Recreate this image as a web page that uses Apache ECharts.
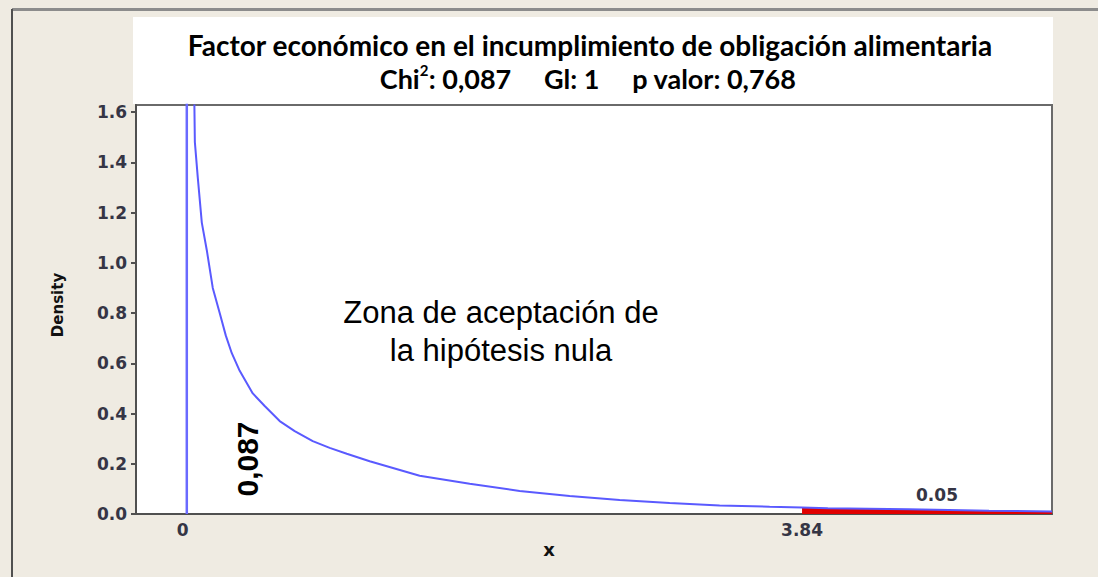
<!DOCTYPE html>
<html>
<head>
<meta charset="utf-8">
<script src="https://cdn.jsdelivr.net/npm/echarts@6/dist/echarts.min.js"></script>
<style>
html,body{margin:0;padding:0;background:#EFEBE2;}
#c{width:1098px;height:577px;}
</style>
</head>
<body>
<div id="c"></div>
<script>
// ---- data ----
var titleLine1 = 'Factor económico en el incumplimiento de obligación alimentaria';
var chiLabel = 'Chi';
var chiSup = '2';
var statsText = ': 0,087     Gl: 1     p valor: 0,768';
var yTickValues = [0, 0.2, 0.4, 0.6, 0.8, 1.0, 1.2, 1.4, 1.6];
var xTickValues = [0, 3.84];
var xTickLabels = ['0', '3.84'];
// chi-square (df = 1) density curve
var curveX = [0.072, 0.075, 0.093, 0.118, 0.149, 0.186, 0.229, 0.267, 0.304, 0.353, 0.434, 0.508, 0.601, 0.694, 0.806, 0.911, 1.017, 1.159, 1.469, 1.779, 2.089, 2.399, 2.709, 3.019, 3.329, 3.639, 3.84, 4.00, 4.50, 5.00, 5.39];
var curveY = [1.63, 1.48, 1.34, 1.16, 1.05, 0.90, 0.80, 0.71, 0.64, 0.57, 0.48, 0.43, 0.37, 0.33, 0.29, 0.263, 0.24, 0.21, 0.152, 0.120, 0.092, 0.072, 0.056, 0.044, 0.034, 0.029, 0.026, 0.023, 0.019, 0.013, 0.010];
// rejection tail (alpha = 0.05)
var tailX = [3.84, 4.00, 4.50, 5.00, 5.39];
var tailY = [0.026, 0.023, 0.019, 0.013, 0.010];
// vertical line near x = 0
var zeroLineX = [0.025, 0.025];
var zeroLineY = [0, 1.7];
var statValue = '0,087';
var alphaLabel = '0.05';
var zoneText = 'Zona de aceptación de\nla hipótesis nula';
var xName = 'x';
var yName = 'Density';

function pairs(xs, ys) { return xs.map(function (x, i) { return [x, ys[i]]; }); }

var chart = echarts.init(document.getElementById('c'), null, { renderer: 'svg' });
var tickFont = { color: '#353545', fontFamily: 'DejaVu Sans', fontWeight: 'bold', fontSize: 17 };

chart.setOption({
  backgroundColor: '#EFEBE2',
  animation: false,
  grid: {
    left: 136, top: 105, right: 46, bottom: 63,
    show: true, backgroundColor: '#ffffff', borderColor: '#6a6a6a', borderWidth: 2
  },
  xAxis: {
    type: 'value', min: -0.29, max: 5.39,
    splitLine: { show: false },
    axisLine: { show: true, onZero: false, lineStyle: { color: '#505050', width: 2 } },
    axisTick: { show: false },
    axisLabel: Object.assign({
      customValues: xTickValues,
      margin: 7,
      formatter: function (v) {
        var i = xTickValues.indexOf(v);
        return i >= 0 ? xTickLabels[i] : '';
      }
    }, tickFont)
  },
  yAxis: {
    type: 'value', min: 0, max: 1.628,
    splitLine: { show: false },
    axisLine: { show: true, onZero: false, lineStyle: { color: '#505050', width: 2 } },
    axisTick: { show: true, customValues: yTickValues, length: 5, lineStyle: { color: '#505050', width: 2 } },
    axisLabel: Object.assign({
      customValues: yTickValues,
      margin: 9,
      formatter: function (v) { return v.toFixed(1); }
    }, tickFont)
  },
  series: [
    {
      type: 'line', data: pairs(tailX, tailY), symbol: 'none',
      lineStyle: { width: 0 }, areaStyle: { color: '#E00000', opacity: 1 }, z: 2
    },
    {
      type: 'line', data: pairs(curveX, curveY), symbol: 'none', smooth: false,
      lineStyle: { color: '#5a5aff', width: 2 }, z: 3
    },
    {
      type: 'line', data: pairs(zeroLineX, zeroLineY), symbol: 'none',
      lineStyle: { color: '#6a6aff', width: 2.5 }, z: 3
    }
  ],
  graphic: [
    { type: 'rect', shape: { x: 12, y: 8, width: 1086, height: 3 }, style: { fill: '#8c8c8c' }, z: 10 },
    { type: 'rect', shape: { x: 11, y: 9, width: 2, height: 568 }, style: { fill: '#505050' }, z: 10 },
    { type: 'rect', shape: { x: 133, y: 17, width: 920, height: 87 }, style: { fill: '#ffffff' }, z: 1 },
    { type: 'text', x: 590, y: 45, z: 11,
      style: { text: titleLine1, align: 'center', verticalAlign: 'middle',
        font: 'bold 28px Lato', fill: '#000' } },
    { type: 'text', x: 588, y: 78, z: 11,
      style: { text: '{b|' + chiLabel + '}{s|' + chiSup + '}{b|' + statsText + '}', align: 'center', verticalAlign: 'middle',
        rich: {
          b: { font: 'bold 27px Lato', fill: '#000', lineHeight: 32, verticalAlign: 'middle' },
          s: { font: 'bold 15px Lato', fill: '#000', lineHeight: 15, verticalAlign: 'top' }
        } } },
    { type: 'text', x: 501, y: 331, z: 11,
      style: { text: zoneText, align: 'center', verticalAlign: 'middle',
        font: '31px "Liberation Sans"', lineHeight: 38, fill: '#000' } },
    { type: 'text', x: 247, y: 459, rotation: Math.PI / 2, z: 11,
      style: { text: statValue, align: 'center', verticalAlign: 'middle',
        font: 'bold 30px "Liberation Sans"', fill: '#000' } },
    { type: 'text', x: 937, y: 495, z: 11,
      style: { text: alphaLabel, align: 'center', verticalAlign: 'middle',
        font: 'bold 17px "DejaVu Sans"', fill: '#353545' } },
    { type: 'text', x: 549, y: 549, z: 11,
      style: { text: xName, align: 'center', verticalAlign: 'middle',
        font: 'bold 18px "DejaVu Sans"', fill: '#111' } },
    { type: 'text', x: 58, y: 305, rotation: Math.PI / 2, z: 11,
      style: { text: yName, align: 'center', verticalAlign: 'middle',
        font: 'bold 15px "DejaVu Sans"', fill: '#111' } }
  ]
});
</script>
</body>
</html>
